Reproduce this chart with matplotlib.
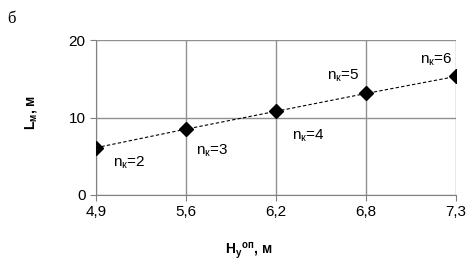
import matplotlib
matplotlib.use("Agg")
import matplotlib.pyplot as plt

plt.rcParams['font.family'] = ['Liberation Sans', 'DejaVu Sans']

# данные
h_labels = ["4,9", "5,6", "6,2", "6,8", "7,3"]
l_values = [6.1, 8.5, 10.8, 13.1, 15.3]
n_labels = ["2", "3", "4", "5", "6"]

# смещения подписей (в пикселях) относительно точки
offsets = [(17, -15), (10, -22), (16, -24), (-39, 18), (-36, 17)]

fig = plt.figure(figsize=(4.67, 2.68), dpi=100)
ax = fig.add_axes([0.2056, 0.2724, 0.7708, 0.5783])

x = list(range(len(h_labels)))
ax.plot(x, l_values, ls=(0, (3, 2)), color='black', lw=0.8, zorder=3)
ax.plot(x, l_values, ls='none', marker='D', ms=7.5, color='black', zorder=4)

for xi, yi, n, (dx, dy) in zip(x, l_values, n_labels, offsets):
    ax.annotate(r"n$_{\mathregular{к}}$=" + n, (xi, yi), xytext=(dx, dy),
                textcoords='offset pixels', fontsize=11, ha='left', va='center')

ax.set_xlim(0, 4)
ax.set_ylim(0, 20)
ax.set_xticks(x)
ax.set_xticklabels(h_labels, fontsize=11)
ax.set_yticks([0, 10, 20])
ax.tick_params(labelsize=11, color='#808080', length=4, direction='out')
ax.grid(True, color='#909090', lw=1)
ax.set_axisbelow(True)
for s in ['top', 'right']:
    ax.spines[s].set_visible(False)
for s in ['left', 'bottom']:
    ax.spines[s].set_color('#808080')

ax.set_xlabel(r"H$_{\mathregular{у}}$$^{\mathregular{оп}}$, м", fontsize=10, fontweight='bold')
ax.set_ylabel(r"L$_{\mathregular{м}}$, м", fontsize=10, fontweight='bold')
ax.xaxis.set_label_coords(0.425, -0.361)
ax.xaxis.label.set_va('center')
ax.yaxis.set_label_coords(-0.18, 0.535)
ax.yaxis.label.set_va('center')

fig.text(0.015, 0.96, "б", fontsize=12, family='Liberation Serif', va='top')

fig.savefig("out.png", dpi=100)
